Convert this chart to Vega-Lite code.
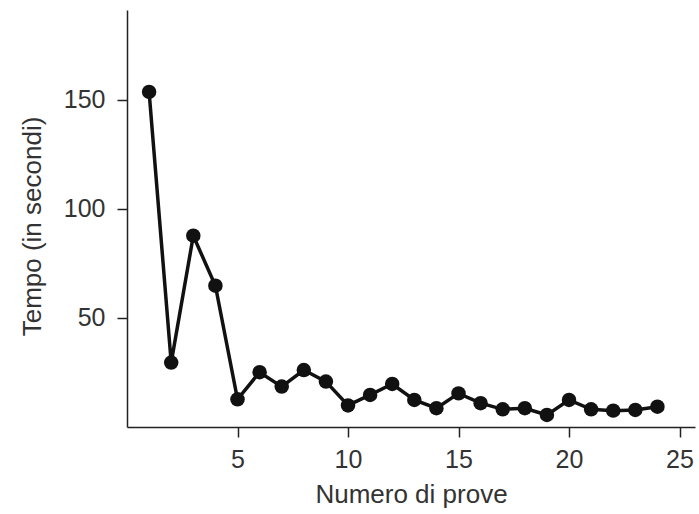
{
  "$schema": "https://vega.github.io/schema/vega-lite/v6.json",
  "autosize": "none",
  "width": 568,
  "height": 417,
  "padding": {"left": 127, "top": 10, "right": 4, "bottom": 87},
  "background": "white",
  "config": {"view": {"stroke": null}, "font": "Liberation Sans"},
  "data": {"values": [
    {"prova": 1, "tempo": 153.5},
    {"prova": 2, "tempo": 29.5},
    {"prova": 3, "tempo": 87.6},
    {"prova": 4, "tempo": 64.7},
    {"prova": 5, "tempo": 12.7},
    {"prova": 6, "tempo": 25.1},
    {"prova": 7, "tempo": 18.5},
    {"prova": 8, "tempo": 26.1},
    {"prova": 9, "tempo": 20.8},
    {"prova": 10, "tempo": 9.9},
    {"prova": 11, "tempo": 14.7},
    {"prova": 12, "tempo": 19.7},
    {"prova": 13, "tempo": 12.4},
    {"prova": 14, "tempo": 8.6},
    {"prova": 15, "tempo": 15.4},
    {"prova": 16, "tempo": 10.9},
    {"prova": 17, "tempo": 8.1},
    {"prova": 18, "tempo": 8.6},
    {"prova": 19, "tempo": 5.5},
    {"prova": 20, "tempo": 12.4},
    {"prova": 21, "tempo": 8.1},
    {"prova": 22, "tempo": 7.5},
    {"prova": 23, "tempo": 7.8},
    {"prova": 24, "tempo": 9.3}
  ]},
  "encoding": {
    "x": {
      "field": "prova", "type": "quantitative",
      "scale": {"domain": [0, 25.7], "nice": false, "zero": false},
      "axis": {
        "title": "Numero di prove", "values": [5, 10, 15, 20, 25],
        "grid": false, "domainColor": "#222", "domainWidth": 1.5,
        "tickColor": "#222", "tickWidth": 1.5, "tickSize": 10,
        "labelFontSize": 25, "labelColor": "#333", "labelPadding": 10,
        "titleFontSize": 26, "titleColor": "#333", "titleFontWeight": "normal",
        "titlePadding": 9
      }
    },
    "y": {
      "field": "tempo", "type": "quantitative",
      "scale": {"domain": [0, 191], "nice": false},
      "axis": {
        "title": "Tempo (in secondi)", "values": [50, 100, 150],
        "grid": false, "domainColor": "#222", "domainWidth": 1.5,
        "tickColor": "#222", "tickWidth": 1.5, "tickSize": 10,
        "labelFontSize": 25, "labelColor": "#333", "labelPadding": 12,
        "titleFontSize": 26, "titleColor": "#333", "titleFontWeight": "normal",
        "titlePadding": 18, "titleY": 216
      }
    }
  },
  "layer": [
    {"mark": {"type": "line", "color": "#111", "strokeWidth": 3.5}},
    {"mark": {"type": "point", "filled": true, "color": "#111", "opacity": 1, "size": 210}}
  ]
}
